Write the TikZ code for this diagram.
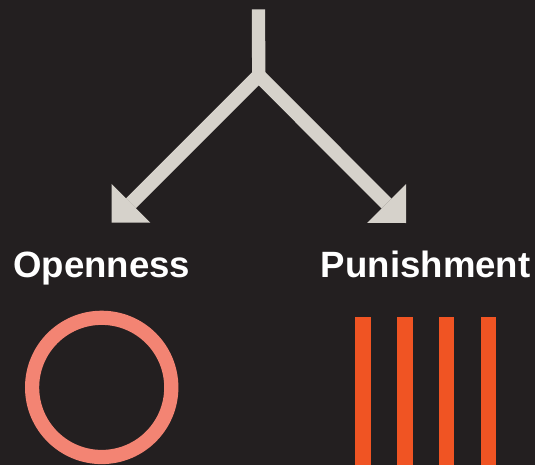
\documentclass[tikz,border=0pt]{standalone}
\usepackage{fontspec}
\setmainfont{Liberation Sans}
\usetikzlibrary{arrows.meta}
\definecolor{bgc}{HTML}{231F20}
\definecolor{arrowc}{HTML}{D6D2CB}
\definecolor{ringc}{HTML}{F38473}
\definecolor{barc}{HTML}{F05423}
\tikzset{
  connector/.style={draw=arrowc, line width=14pt},
  splitarrow/.style={connector, miter limit=10, line join=miter,
    >={Triangle[length=27.5pt,width=55pt,line width=0pt]}, <->},
  label/.style={text=white, font=\bfseries\fontsize{36.6}{36.6}\selectfont, anchor=base, inner sep=0pt},
  bar/.style={fill=barc},
}
\begin{document}
\begin{tikzpicture}[x=1pt,y=-1pt]
\fill[bgc] (0,0) rectangle (535,465);
\useasboundingbox (0,0) rectangle (535,465);
\coordinate (top) at (258.5,9.3);
\coordinate (junction) at (258.7,75.5);
\coordinate (tipL) at (111.5,222.7);
\coordinate (tipR) at (406,223);
\draw[connector, line width=13.3pt, line cap=butt] (top) -- (junction);
\draw[splitarrow] (tipL) -- (junction) -- (tipR);
\node[label] (openness) at (101.7,277) {Openness};
\node[label] (punishment) at (425.7,277) {Punishment};
\draw[ringc, line width=14.2pt] (101.7,387.4) circle[radius=69.6];
\fill[bar] (355.2,317.3) rectangle (370.8,465);
\fill[bar] (397,317.3) rectangle (412.5,465);
\fill[bar] (438.8,317.3) rectangle (454.3,465);
\fill[bar] (480.6,317.3) rectangle (496.1,465);
\end{tikzpicture}
\end{document}
